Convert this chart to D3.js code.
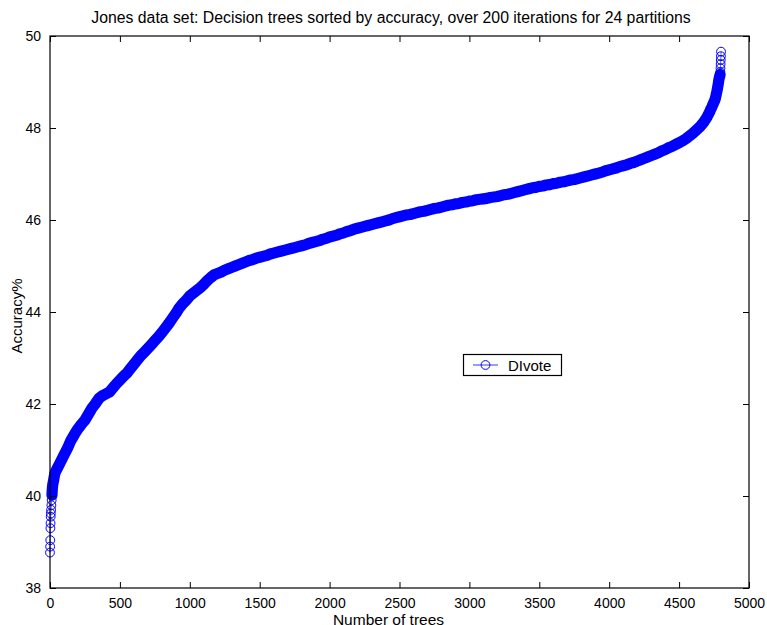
<!DOCTYPE html>
<html>
<head>
<meta charset="utf-8">
<script src="https://cdn.jsdelivr.net/npm/d3@7"></script>
<style>
  html, body { margin: 0; padding: 0; background: #fff; }
  svg { display: block; font-family: "Liberation Sans", Arial, Helvetica, sans-serif; }
</style>
</head>
<body>
<svg id="chart" width="767" height="625"></svg>
<script>
// Tree index (sorted by accuracy) and the accuracy of each tree.
const trees = [
  0, 1, 2, 3, 4, 5, 6, 8, 10, 12, 14, 16, 18, 20, 23, 26, 30, 35, 40, 45,
  50, 75, 100, 125, 150, 175, 200, 225, 250, 275, 300, 325, 350, 375, 400, 425,
  450, 475, 500, 525, 550, 575, 600, 625, 650, 675, 700, 725, 750, 775, 800, 825,
  850, 875, 900, 925, 950, 975, 1000, 1025, 1050, 1075, 1100, 1125, 1150, 1175, 1200, 1225,
  1250, 1275, 1300, 1325, 1350, 1375, 1400, 1425, 1450, 1475, 1500, 1525, 1550, 1575, 1600, 1625,
  1650, 1675, 1700, 1725, 1750, 1775, 1800, 1825, 1850, 1875, 1900, 1925, 1950, 1975, 2000, 2025,
  2050, 2075, 2100, 2125, 2150, 2175, 2200, 2225, 2250, 2275, 2300, 2325, 2350, 2375, 2400, 2425,
  2450, 2475, 2500, 2525, 2550, 2575, 2600, 2625, 2650, 2675, 2700, 2725, 2750, 2775, 2800, 2825,
  2850, 2875, 2900, 2925, 2950, 2975, 3000, 3025, 3050, 3075, 3100, 3125, 3150, 3175, 3200, 3225,
  3250, 3275, 3300, 3325, 3350, 3375, 3400, 3425, 3450, 3475, 3500, 3525, 3550, 3575, 3600, 3625,
  3650, 3675, 3700, 3725, 3750, 3775, 3800, 3825, 3850, 3875, 3900, 3925, 3950, 3975, 4000, 4025,
  4050, 4075, 4100, 4125, 4150, 4175, 4200, 4225, 4250, 4275, 4300, 4325, 4350, 4375, 4400, 4425,
  4450, 4475, 4500, 4525, 4550, 4575, 4600, 4625, 4650, 4675, 4700, 4705, 4710, 4715, 4720, 4725,
  4730, 4735, 4740, 4745, 4750, 4755, 4760, 4765, 4770, 4775, 4780, 4783, 4786, 4789, 4791, 4793,
  4794, 4795, 4796, 4797, 4798, 4799, 4800
];
const accuracy = [
  38.77, 38.90, 39.04, 39.30, 39.41, 39.55, 39.62, 39.70, 39.80, 39.91, 40.02, 40.13, 40.20, 40.25, 40.30, 40.34, 40.42, 40.49, 40.53, 40.56,
  40.59, 40.74, 40.89, 41.04, 41.21, 41.34, 41.46, 41.56, 41.65, 41.78, 41.91, 42.01, 42.12, 42.18, 42.22, 42.26,
  42.35, 42.44, 42.52, 42.60, 42.67, 42.77, 42.86, 42.96, 43.05, 43.13, 43.21, 43.29, 43.38, 43.46, 43.55, 43.65,
  43.75, 43.86, 43.97, 44.09, 44.18, 44.26, 44.35, 44.41, 44.47, 44.53, 44.60, 44.68, 44.75, 44.81, 44.84, 44.87,
  44.91, 44.94, 44.97, 45.00, 45.03, 45.06, 45.09, 45.12, 45.14, 45.17, 45.19, 45.21, 45.23, 45.26, 45.28, 45.30,
  45.32, 45.34, 45.36, 45.38, 45.40, 45.42, 45.44, 45.46, 45.49, 45.51, 45.53, 45.55, 45.58, 45.60, 45.63, 45.65,
  45.67, 45.70, 45.72, 45.75, 45.77, 45.80, 45.82, 45.84, 45.86, 45.88, 45.90, 45.92, 45.94, 45.96, 45.98, 46.00,
  46.03, 46.05, 46.07, 46.09, 46.11, 46.12, 46.14, 46.16, 46.18, 46.19, 46.21, 46.23, 46.25, 46.26, 46.28, 46.30,
  46.32, 46.33, 46.35, 46.36, 46.38, 46.39, 46.41, 46.42, 46.44, 46.45, 46.46, 46.47, 46.49, 46.50, 46.51, 46.53,
  46.55, 46.56, 46.58, 46.60, 46.62, 46.64, 46.66, 46.68, 46.70, 46.71, 46.73, 46.74, 46.76, 46.77, 46.79, 46.80,
  46.82, 46.83, 46.85, 46.87, 46.88, 46.90, 46.92, 46.94, 46.96, 46.98, 47.00, 47.02, 47.04, 47.07, 47.09, 47.11,
  47.13, 47.16, 47.18, 47.20, 47.23, 47.25, 47.28, 47.31, 47.34, 47.37, 47.40, 47.43, 47.46, 47.50, 47.53, 47.57,
  47.60, 47.64, 47.68, 47.72, 47.77, 47.83, 47.89, 47.96, 48.03, 48.12, 48.24, 48.27, 48.30, 48.33, 48.36, 48.40,
  48.43, 48.46, 48.50, 48.53, 48.57, 48.60, 48.65, 48.72, 48.79, 48.87, 48.96, 49.02, 49.07, 49.11, 49.13, 49.16,
  49.18, 49.22, 49.30, 49.39, 49.48, 49.56, 49.66
];

const xTicks = [0, 500, 1000, 1500, 2000, 2500, 3000, 3500, 4000, 4500, 5000];
const yTicks = [38, 40, 42, 44, 46, 48, 50];

const titleText = "Jones data set: Decision trees sorted by accuracy, over 200 iterations for 24 partitions";
const xLabel = "Number of trees";
const yLabel = "Accuracy%";
const seriesName = "DIvote";

const box = { left: 50, right: 749, top: 36, bottom: 588 };
const blue = "#0000ff";
const markerR = 4.4;

const svg = d3.select("#chart");

const x = d3.scaleLinear().domain([0, 5000]).range([box.left, box.right]);
const y = d3.scaleLinear().domain([38, 50]).range([box.bottom, box.top]);

const points = trees.map((t, i) => ({ t, a: accuracy[i] }));
const line = d3.line().x(d => x(d.t)).y(d => y(d.a));

const plot = svg.append("g");

// Where thousands of trees sit shoulder to shoulder the open markers merge
// into one solid stroke; trace that stretch as a marker-wide band.
const densePart = points.filter(d => d.a >= 40.0 && d.a <= 49.16);
plot.append("path")
  .datum(densePart)
  .attr("fill", "none")
  .attr("stroke", blue)
  .attr("stroke-width", markerR * 2 + 2.4)
  .attr("stroke-linecap", "round")
  .attr("stroke-linejoin", "round")
  .attr("d", line);

// Thin connecting line plus open circle markers
plot.append("path")
  .datum(points)
  .attr("fill", "none")
  .attr("stroke", blue)
  .attr("stroke-width", 0.6)
  .attr("d", line);

plot.selectAll("circle")
  .data(points)
  .join("circle")
  .attr("cx", d => x(d.t))
  .attr("cy", d => y(d.a))
  .attr("r", markerR)
  .attr("fill", "none")
  .attr("stroke", blue)
  .attr("stroke-width", 1);

// Axes with inward ticks on all four sides
const tickLen = 6;
const fontSize = 14;
const fmt = d3.format("d");

const bottomAxis = d3.axisBottom(x).tickValues(xTicks).tickFormat(fmt).tickSizeInner(-tickLen).tickSizeOuter(0).tickPadding(10);
const leftAxis = d3.axisLeft(y).tickValues(yTicks).tickFormat(fmt).tickSizeInner(-tickLen).tickSizeOuter(0).tickPadding(9);
const topAxis = d3.axisTop(x).tickValues(xTicks).tickSizeInner(-tickLen).tickSizeOuter(0).tickFormat("");
const rightAxis = d3.axisRight(y).tickValues(yTicks).tickSizeInner(-tickLen).tickSizeOuter(0).tickFormat("");

function styleAxis(g) {
  g.select(".domain").remove();
  g.selectAll("line").attr("stroke", "#000").attr("stroke-width", 1);
  g.selectAll("text").attr("fill", "#000").style("font-size", fontSize + "px")
    .style("font-family", "\"Liberation Sans\", Arial, sans-serif");
}

svg.append("g").attr("transform", `translate(0,${box.bottom})`).call(bottomAxis).call(styleAxis);
svg.append("g").attr("transform", `translate(${box.left},0)`).call(leftAxis).call(styleAxis);
svg.append("g").attr("transform", `translate(0,${box.top})`).call(topAxis).call(styleAxis);
svg.append("g").attr("transform", `translate(${box.right},0)`).call(rightAxis).call(styleAxis);

// Axes box
svg.append("rect")
  .attr("x", box.left).attr("y", box.top)
  .attr("width", box.right - box.left).attr("height", box.bottom - box.top)
  .attr("fill", "none").attr("stroke", "#000").attr("stroke-width", 1.2);

// Title and axis labels
svg.append("text")
  .attr("x", 391).attr("y", 23)
  .attr("text-anchor", "middle")
  .style("font-size", "15.8px")
  .text(titleText);

svg.append("text")
  .attr("x", 388.5).attr("y", 625)
  .attr("text-anchor", "middle")
  .style("font-size", "15.5px")
  .text(xLabel);

svg.append("text")
  .attr("transform", `translate(22,${(box.top + box.bottom) / 2 + 4}) rotate(-90)`)
  .attr("text-anchor", "middle")
  .style("font-size", "15px")
  .text(yLabel);

// Legend
const legend = svg.append("g").attr("transform", "translate(463,354)");
legend.append("rect")
  .attr("x", 0.5).attr("y", 0.5).attr("width", 98).attr("height", 21)
  .attr("fill", "#fff").attr("stroke", "#000").attr("stroke-width", 1.2);
legend.append("line")
  .attr("x1", 10).attr("x2", 35).attr("y1", 11).attr("y2", 11)
  .attr("stroke", blue).attr("stroke-width", 0.8);
legend.append("circle")
  .attr("cx", 22.5).attr("cy", 11).attr("r", markerR)
  .attr("fill", "none").attr("stroke", blue).attr("stroke-width", 1);
legend.append("text")
  .attr("x", 45).attr("y", 16.5)
  .style("font-size", "15px")
  .text(seriesName);
</script>
</body>
</html>
